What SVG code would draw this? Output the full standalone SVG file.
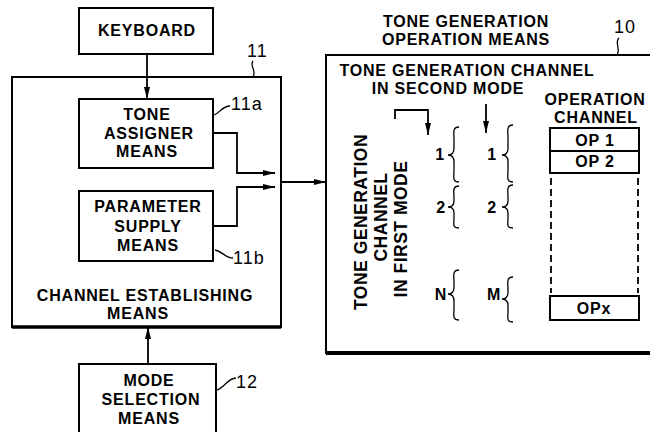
<svg xmlns="http://www.w3.org/2000/svg" width="650" height="432" viewBox="0 0 650 432">
<style>
.b{fill:#fff;stroke:#000;stroke-width:2}
.t{font-family:"Liberation Sans",Arial,sans-serif;font-weight:bold;font-size:16px;letter-spacing:0.8px;fill:#000;text-anchor:middle}
.v{font-family:"Liberation Sans",Arial,sans-serif;font-weight:bold;font-size:17.5px;letter-spacing:0.5px;fill:#000;text-anchor:middle}
.n{font-family:"Liberation Sans",Arial,sans-serif;font-size:18px;letter-spacing:1px;fill:#000}
.c{fill:none;stroke:#000;stroke-width:1.8}
.l{fill:none;stroke:#000;stroke-width:1.3}
</style>
<defs>
<marker id="ah" viewBox="0 0 12 6" refX="12" refY="3" markerWidth="12" markerHeight="6" markerUnits="userSpaceOnUse" orient="auto">
<path d="M0,0 L12,3 L0,6 Z" fill="#000"/>
</marker>
</defs>
<rect width="650" height="432" fill="#fff"/>

<g id="n11">
<rect class="b" x="12" y="77" width="269" height="250"/>
<line x1="12" y1="327" x2="281" y2="327" stroke="#000" stroke-width="3.5"/>
<text class="t" x="145" y="301">CHANNEL ESTABLISHING</text>
<text class="t" x="138" y="319">MEANS</text>
<text class="n" x="247" y="57">11</text>
<path class="l" d="M253,61 C249,66 257,70 253,77"/>
</g>

<g id="keyboard">
<rect class="b" x="79" y="8" width="134" height="46"/>
<text class="t" x="147" y="36">KEYBOARD</text>
</g>

<g id="n11a">
<rect class="b" x="79" y="99" width="134" height="69"/>
<text class="t" x="147" y="120">TONE</text>
<text class="t" x="149" y="139">ASSIGNER</text>
<text class="t" x="147" y="157">MEANS</text>
<text class="n" x="231" y="110">11a</text>
<path class="l" d="M214,115 C220,113 222,106 230,106"/>
</g>

<g id="n11b">
<rect class="b" x="79" y="191" width="134" height="70"/>
<text class="t" x="148" y="212">PARAMETER</text>
<text class="t" x="148" y="232">SUPPLY</text>
<text class="t" x="148" y="251">MEANS</text>
<text class="n" x="233" y="264">11b</text>
<path class="l" d="M215,250 C222,251 225,258 233,258"/>
</g>

<g id="n12">
<rect class="b" x="79" y="364" width="137" height="72"/>
<text class="t" x="149" y="386">MODE</text>
<text class="t" x="151" y="405">SELECTION</text>
<text class="t" x="149" y="424">MEANS</text>
<text class="n" x="236" y="388">12</text>
<path class="l" d="M217,390 C224,388 228,378 236,378"/>
</g>

<g id="n10">
<rect class="b" x="326" y="55" width="340" height="298"/>
<line x1="326" y1="353" x2="650" y2="353" stroke="#000" stroke-width="4"/>
<text class="t" x="466" y="27">TONE GENERATION</text>
<text class="t" x="466" y="45">OPERATION MEANS</text>
<text class="n" x="614" y="33">10</text>
<path class="l" d="M619,38 C614,43 621,48 617,55"/>
<text class="t" x="467" y="76">TONE GENERATION CHANNEL</text>
<text class="t" x="448" y="94">IN SECOND MODE</text>
<text class="v" transform="translate(367,222) rotate(-90)">TONE GENERATION</text>
<text class="v" transform="translate(387,217) rotate(-90)">CHANNEL</text>
<text class="v" transform="translate(407,229) rotate(-90)">IN FIRST MODE</text>
<text class="t" x="440" y="160">1</text>
<text class="t" x="441" y="213">2</text>
<text class="t" x="441" y="300">N</text>
<text class="t" x="492" y="160">1</text>
<text class="t" x="492" y="213">2</text>
<text class="t" x="494" y="300">M</text>
<path class="l" d="M459,127 C452,127 454,133 454,140 L454,148 C454,153 452,155 448,155 C452,155 454,157 454,162 L454,170 C454,177 452,182 459,182"/>
<path class="l" d="M459,186 C452,186 454,192 454,197 L454,201 C454,205 452,207 448,207 C452,207 454,209 454,213 L454,218 C454,224 452,228 459,228"/>
<path class="l" d="M459,270 C452,270 454,276 454,282 L454,287 C454,292 452,294 448,294 C452,294 454,296 454,301 L454,308 C454,315 452,320 459,320"/>
<path class="l" d="M513,125 C506,125 508,131 508,138 L508,148 C508,153 506,155 502,155 C506,155 508,157 508,162 L508,170 C508,177 506,182 513,182"/>
<path class="l" d="M513,185 C506,185 508,191 508,196 L508,201 C508,205 506,207 502,207 C506,207 508,209 508,213 L508,218 C508,224 506,228 513,228"/>
<path class="l" d="M513,277 C506,277 508,283 508,289 L508,292 C508,297 506,299 502,299 C506,299 508,301 508,306 L508,312 C508,318 506,322 513,322"/>
<text class="t" x="595" y="105">OPERATION</text>
<text class="t" x="596" y="123">CHANNEL</text>
</g>

<g id="op1">
<rect class="b" x="550" y="128" width="89" height="23"/>
<text class="t" x="595" y="146">OP 1</text>
</g>
<g id="op2">
<rect class="b" x="550" y="151" width="89" height="22"/>
<text class="t" x="595" y="167">OP 2</text>
</g>
<g id="opdash">
<line x1="551" y1="178" x2="551" y2="293" stroke="#000" stroke-width="1.8" stroke-dasharray="7,4"/>
<line x1="638" y1="178" x2="638" y2="293" stroke="#000" stroke-width="1.8" stroke-dasharray="7,4"/>
</g>
<g id="opx">
<rect class="b" x="550" y="296" width="89" height="24"/>
<text class="t" x="594" y="314">OPx</text>
</g>

<g id="connectors">
<line class="c" x1="147" y1="54" x2="147" y2="99" marker-end="url(#ah)"/>
<polyline class="c" points="213,133 237,133 237,173 275,173" marker-end="url(#ah)"/>
<polyline class="c" points="213,226 237,226 237,187 275,187" marker-end="url(#ah)"/>
<line class="c" x1="281" y1="182" x2="326" y2="182" marker-end="url(#ah)"/>
<line class="c" x1="148" y1="364" x2="148" y2="327" marker-end="url(#ah)"/>
<polyline class="c" points="395,119 395,110 428,110 428,135" marker-end="url(#ah)"/>
<line class="c" x1="486" y1="104" x2="486" y2="133" marker-end="url(#ah)"/>
</g>
</svg>
